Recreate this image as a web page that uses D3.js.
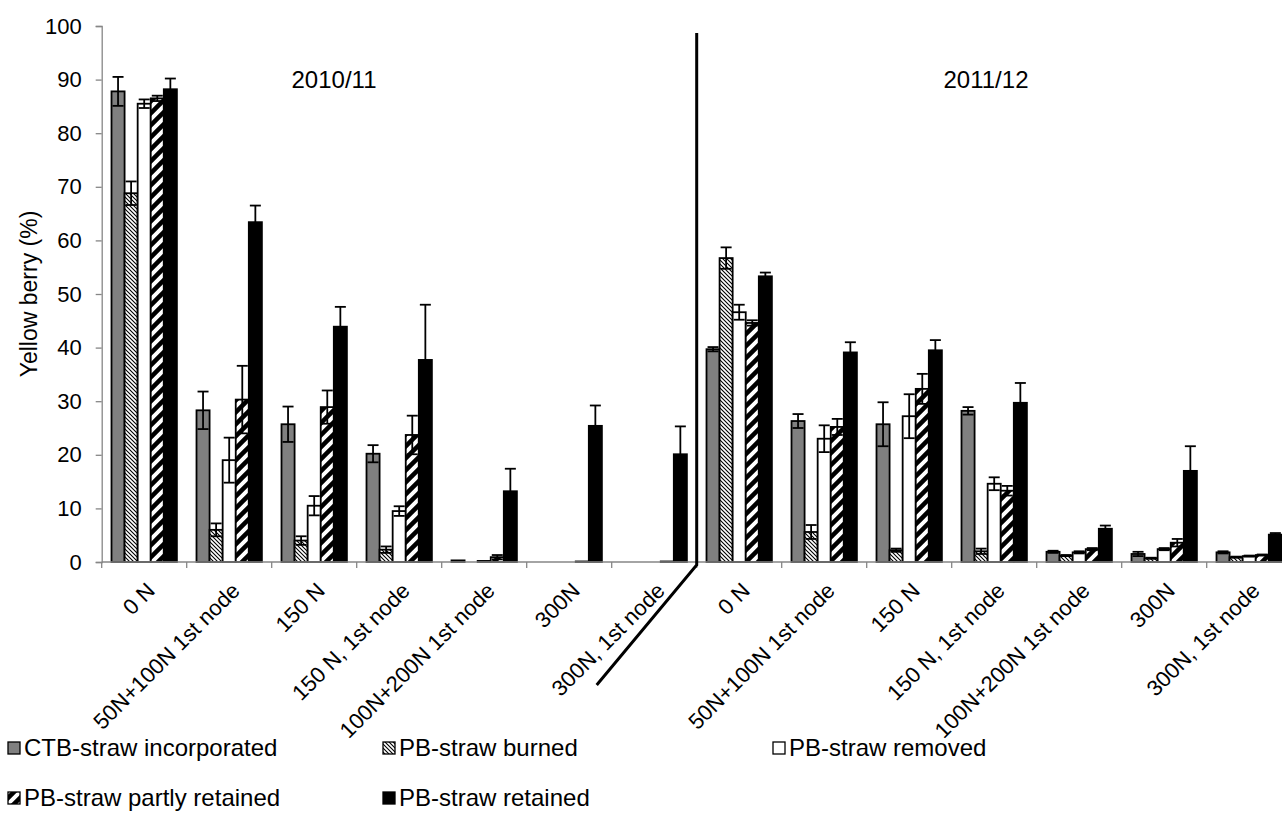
<!DOCTYPE html>
<html>
<head>
<meta charset="utf-8">
<script src="https://cdn.jsdelivr.net/npm/d3@7"></script>
<style>
  body { margin: 0; background: #fff; }
  svg { display: block; font-family: "Liberation Sans", Arial, sans-serif; }
</style>
</head>
<body>
<div id="chart"></div>
<script>
// seasons and nitrogen treatments
var seasons = ["2010/11", "2011/12"];
var treatments = ["0 N", "50N+100N 1st node", "150 N", "150 N, 1st node", "100N+200N 1st node", "300N", "300N, 1st node"];

var seriesNames = ["CTB-straw incorporated", "PB-straw burned", "PB-straw removed", "PB-straw partly retained", "PB-straw retained"];

// yellow berry (%) - 7 values for 2010/11 then 7 for 2011/12
var ctbIncorporated = [87.8, 28.3, 25.7, 20.2, 0.3, 0, 0,    39.7, 26.3, 25.7, 28.2, 1.9, 1.5, 1.8];
var pbBurned        = [68.8, 6.0, 4.0, 2.3, 0, 0, 0,         56.7, 5.6, 2.2, 2.0, 1.2, 0.7, 0.9];
var pbRemoved       = [85.5, 19.0, 10.5, 9.5, 0.2, 0, 0,     46.6, 23.0, 27.2, 14.6, 1.8, 2.4, 1.1];
var pbPartly        = [86.5, 30.3, 28.9, 23.7, 0.9, 0.1, 0.1, 44.6, 25.2, 32.3, 13.3, 2.4, 3.6, 1.3];
var pbRetained      = [88.2, 63.4, 43.9, 37.7, 13.2, 25.4, 20.1, 53.3, 39.1, 39.5, 29.7, 6.2, 17.0, 5.1];

// standard errors
var ctbIncorporatedErr = [2.7, 3.5, 3.3, 1.6, 0, 0, 0,   0.4, 1.3, 4.1, 0.7, 0.2, 0.4, 0.2];
var pbBurnedErr        = [2.2, 1.2, 0.8, 0.6, 0, 0, 0,   2.0, 1.3, 0.3, 0.5, 0.1, 0.1, 0.1];
var pbRemovedErr       = [0.8, 4.2, 1.8, 0.9, 0, 0, 0,   1.4, 2.5, 4.1, 1.2, 0.2, 0.2, 0.1];
var pbPartlyErr        = [0.5, 6.3, 3.1, 3.6, 0.4, 0, 0, 0.5, 1.5, 2.8, 0.9, 0.2, 0.7, 0.1];
var pbRetainedErr      = [2.0, 3.1, 3.7, 10.3, 4.2, 3.8, 5.2, 0.7, 1.9, 1.9, 3.7, 0.6, 4.6, 0.3];

var yTicks = [0, 10, 20, 30, 40, 50, 60, 70, 80, 90, 100];

var seriesValues = [ctbIncorporated, pbBurned, pbRemoved, pbPartly, pbRetained];
var seriesErrors = [ctbIncorporatedErr, pbBurnedErr, pbRemovedErr, pbPartlyErr, pbRetainedErr];
var seriesFills = ["#808080", "url(#hatchBurned)", "#ffffff", "url(#stripePartly)", "#000000"];

var width = 1282, height = 834;
var margin = { left: 101.7, top: 26, bottom: 272 };
var plotBottom = height - margin.bottom;

var svg = d3.select("#chart").append("svg")
	.attr("width", width)
	.attr("height", height);

var defs = svg.append("defs");

var hatch = defs.append("pattern")
	.attr("id", "hatchBurned")
	.attr("patternUnits", "userSpaceOnUse")
	.attr("width", 4).attr("height", 4);
hatch.append("rect").attr("width", 4).attr("height", 4).attr("fill", "#fff");
hatch.append("path")
	.attr("d", "M-1,3 L1,5 M0,0 L4,4 M3,-1 L5,1")
	.attr("stroke", "#000").attr("stroke-width", 1.1);

var stripe = defs.append("pattern")
	.attr("id", "stripePartly")
	.attr("patternUnits", "userSpaceOnUse")
	.attr("width", 12).attr("height", 12);
stripe.append("rect").attr("width", 12).attr("height", 12).attr("fill", "#fff");
stripe.append("path")
	.attr("d", "M-6,6 L6,-6 M0,12 L12,0 M6,18 L18,6")
	.attr("stroke", "#000").attr("stroke-width", 4.5);

// one band per season/treatment
var keys = [];
seasons.forEach(function(s, si) {
	treatments.forEach(function(t, ti) { keys.push(si * treatments.length + ti); });
});

var x0 = d3.scaleBand()
	.domain(keys)
	.range([margin.left, margin.left + 85 * keys.length])
	.padding(0);

var x1 = d3.scaleBand()
	.domain(d3.range(seriesNames.length))
	.range([0, x0.bandwidth()])
	.paddingInner(0)
	.paddingOuter(0.75);

var y = d3.scaleLinear()
	.domain([0, 100])
	.range([plotBottom, margin.top]);

// y axis
var yAxis = svg.append("g")
	.attr("transform", "translate(" + margin.left + ",0)")
	.call(d3.axisLeft(y).tickValues(yTicks).tickSize(6).tickPadding(14));
yAxis.select(".domain").attr("stroke", "#868686").attr("stroke-width", 1.3);
yAxis.selectAll(".tick line").attr("stroke", "#868686").attr("stroke-width", 1.3);
yAxis.selectAll(".tick text").attr("font-size", 22).attr("fill", "#000")
	.attr("font-family", "Liberation Sans, Arial, sans-serif");

svg.append("text")
	.attr("transform", "translate(37," + ((plotBottom + margin.top) / 2) + ") rotate(-90)")
	.attr("text-anchor", "middle")
	.attr("font-size", 23)
	.text("Yellow berry (%)");

// bars
var bars = svg.append("g");
seriesValues.forEach(function(vals, si) {
	bars.selectAll(".bar" + si)
		.data(keys)
		.enter().append("rect")
		.attr("class", "bar" + si)
		.attr("x", function(k) { return x0(k) + x1(si); })
		.attr("y", function(k) { return y(vals[k]); })
		.attr("width", x1.bandwidth())
		.attr("height", function(k) { return plotBottom - y(vals[k]); })
		.attr("fill", seriesFills[si])
		.attr("stroke", "#000")
		.attr("stroke-width", 1.8);
});

// error bars
var errs = svg.append("g").attr("stroke", "#000").attr("stroke-width", 1.8);
seriesValues.forEach(function(vals, si) {
	var ev = seriesErrors[si];
	keys.forEach(function(k) {
		if (!ev[k]) return;
		var cx = x0(k) + x1(si) + x1.bandwidth() / 2;
		var lo = Math.max(0, vals[k] - ev[k]), hi = vals[k] + ev[k];
		errs.append("line").attr("x1", cx).attr("x2", cx).attr("y1", y(lo)).attr("y2", y(hi));
		errs.append("line").attr("x1", cx - 5.5).attr("x2", cx + 5.5).attr("y1", y(hi)).attr("y2", y(hi));
		errs.append("line").attr("x1", cx - 5.5).attr("x2", cx + 5.5).attr("y1", y(lo)).attr("y2", y(lo));
	});
});

// x axis line and boundary ticks
var xAxis = svg.append("g").attr("stroke", "#868686").attr("stroke-width", 1.3);
xAxis.append("line")
	.attr("x1", x0.range()[0]).attr("x2", x0.range()[1])
	.attr("y1", plotBottom).attr("y2", plotBottom);
keys.concat([keys.length]).forEach(function(k) {
	var xx = k < keys.length ? x0(k) : x0.range()[1];
	xAxis.append("line").attr("x1", xx).attr("x2", xx)
		.attr("y1", plotBottom).attr("y2", plotBottom + 6);
});

// rotated category labels
svg.append("g").selectAll("text")
	.data(keys)
	.enter().append("text")
	.attr("transform", function(k) {
		var cx = x0(k) + x0.bandwidth() / 2;
		return "translate(" + (cx + 12) + "," + (plotBottom + 30) + ") rotate(-45)";
	})
	.attr("text-anchor", "end")
	.attr("font-size", 22)
	.text(function(k) { return treatments[k % treatments.length]; });

// season divider
var divX = x0(treatments.length);
svg.append("path")
	.attr("d", "M" + divX + "," + (margin.top + 7) + " L" + divX + "," + (plotBottom + 3) +
		" L" + (divX - 100) + "," + (plotBottom + 123))
	.attr("fill", "none")
	.attr("stroke", "#000")
	.attr("stroke-width", 3);

// season titles
seasons.forEach(function(s, si) {
	svg.append("text")
		.attr("x", si === 0 ? 334 : 986)
		.attr("y", 88)
		.attr("text-anchor", "middle")
		.attr("font-size", 24)
		.text(s);
});

// legend
var legendPos = [[8, 748], [383, 748], [773, 748], [8, 798], [383, 798]];
var legend = svg.append("g");
seriesNames.forEach(function(name, i) {
	var g = legend.append("g").attr("transform", "translate(" + legendPos[i][0] + "," + legendPos[i][1] + ")");
	g.append("rect")
		.attr("x", 0).attr("y", -6)
		.attr("width", 12).attr("height", 12)
		.attr("fill", seriesFills[i])
		.attr("stroke", "#000")
		.attr("stroke-width", 1.3);
	g.append("text")
		.attr("x", 16).attr("y", 0)
		.attr("dy", "0.35em")
		.attr("font-size", 24)
		.text(name);
});
</script>
</body>
</html>
